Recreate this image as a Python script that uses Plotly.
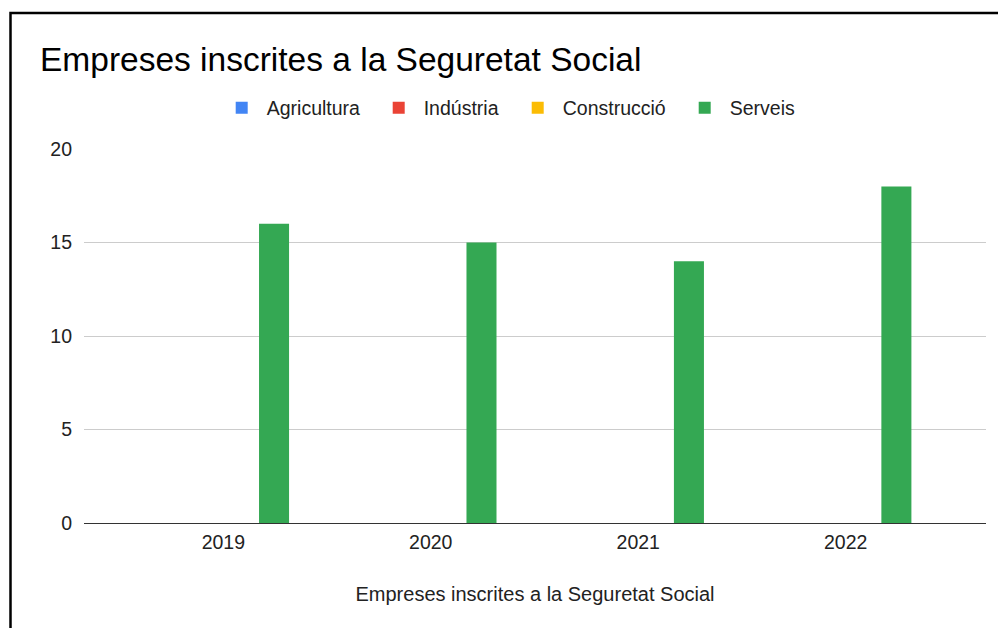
import plotly.graph_objects as go

# ---- data ----
categories = ["2019", "2020", "2021", "2022"]
series_names = ["Agricultura", "Indústria", "Construcció", "Serveis"]
agricultura = [0, 0, 0, 0]
industria = [0, 0, 0, 0]
construccio = [0, 0, 0, 0]
serveis = [16, 15, 14, 18]
y_ticks = [0, 5, 10, 15, 20]

title_text = "Empreses inscrites a la Seguretat Social"
x_axis_title = "Empreses inscrites a la Seguretat Social"

colors = ["#4285F4", "#EA4335", "#FBBC04", "#34A853"]
legend_widths = [102, 84, 112, 70]
values = [agricultura, industria, construccio, serveis]

FONT = "Arial, Liberation Sans, sans-serif"

# the page body adds an 8px margin; layout positions are given in page pixels
OFF = 8
W, H = 1006 - OFF, 628 - OFF
PLOT_L, PLOT_R, PLOT_T, PLOT_B = 84, 986, 149, 523  # page pixels
ML = PLOT_L - OFF
MR = 1006 - PLOT_R
MT = PLOT_T - OFF
MB = 628 - PLOT_B
PW = W - ML - MR
PH = H - MT - MB

def cx(px):  # page x -> container fraction
    return (px - OFF) / W

def cy(py):  # page y -> container fraction (from bottom)
    return 1 - (py - OFF) / H

def paper_x(px):
    return (px - PLOT_L) / PW

def paper_y(py):
    return (PLOT_B - py) / PH

fig = go.Figure()
for name, vals, col, lw in zip(series_names, values, colors, legend_widths):
    fig.add_trace(go.Bar(
        x=categories, y=vals, name=name,
        marker=dict(color=col, line=dict(width=0)),
        legendwidth=lw,
    ))

fig.update_layout(
    width=W, height=H,
    margin=dict(l=ML, r=MR, t=MT, b=MB, autoexpand=False),
    paper_bgcolor="white", plot_bgcolor="white",
    font=dict(family=FONT, color="#222222"),
    barmode="group", bargap=0.348, bargroupgap=0.112,
    title=dict(
        text=title_text,
        font=dict(family=FONT, size=33.5, color="#000000"),
        xref="container", x=cx(40), xanchor="left",
        yref="container", y=cy(59), yanchor="middle",
    ),
    legend=dict(
        orientation="h",
        xref="container", x=cx(216.7), xanchor="left",
        yref="container", y=cy(108), yanchor="middle",
        font=dict(family=FONT, size=19.5, color="#222222"),
        itemwidth=40,
        bgcolor="rgba(0,0,0,0)",
    ),
    xaxis=dict(
        type="category",
        range=[-0.6716, 3.6765],
        showgrid=False, zeroline=False, showline=False,
        ticks="",
        ticklabelstandoff=5,
        tickfont=dict(family=FONT, size=19.5, color="#222222"),
        title=dict(text=x_axis_title, font=dict(family=FONT, size=20, color="#222222"), standoff=35),
        fixedrange=True,
    ),
    yaxis=dict(
        range=[0, 20],
        tickvals=y_ticks,
        showgrid=True, gridcolor="#cccccc", gridwidth=1,
        zeroline=True, zerolinecolor="#333333", zerolinewidth=1.3,
        showline=False, ticks="",
        ticklabelstandoff=11,
        tickfont=dict(family=FONT, size=19.5, color="#222222"),
        fixedrange=True,
    ),
    shapes=[dict(
        type="rect", xref="paper", yref="paper",
        x0=paper_x(10.5), x1=paper_x(1020),
        y0=paper_y(650), y1=paper_y(13),
        line=dict(color="#000000", width=2.5),
        fillcolor="rgba(0,0,0,0)", layer="above",
    )],
    showlegend=True,
)

fig.write_html("out.html", config={"displayModeBar": False})
